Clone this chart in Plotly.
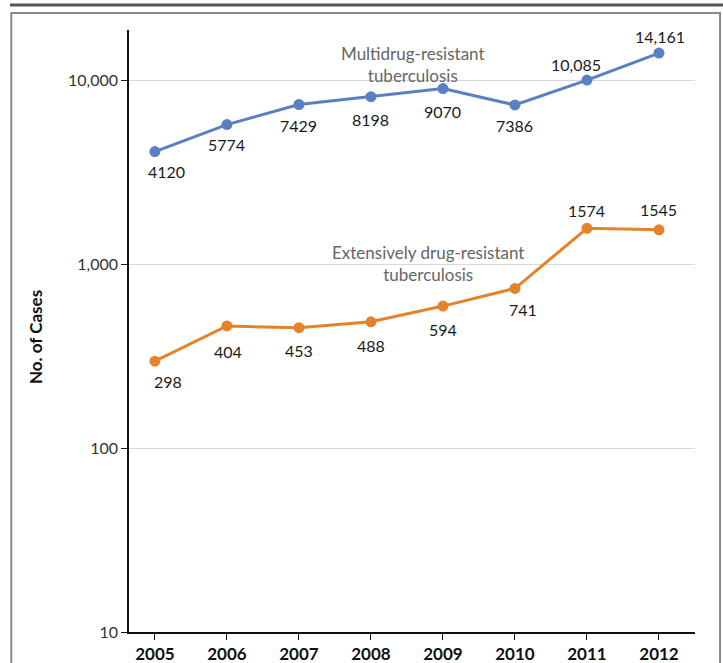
import plotly.graph_objects as go
import math

years = [2005, 2006, 2007, 2008, 2009, 2010, 2011, 2012]
mdr_values = [4120, 5774, 7429, 8198, 9070, 7386, 10085, 14161]
mdr_labels = ["4120", "5774", "7429", "8198", "9070", "7386", "10,085", "14,161"]
xdr_values = [298, 463, 453, 488, 594, 741, 1574, 1545]
xdr_labels = ["298", "404", "453", "488", "594", "741", "1574", "1545"]
y_tickvals = [10, 100, 1000, 10000]
y_ticktext = ["10", "100", "1,000", "10,000"]

BLUE = "#5b80c2"
ORANGE = "#e5832a"
FONT = "Lato"

fig = go.Figure()
fig.add_trace(go.Scatter(x=years, y=mdr_values, mode="lines+markers",
                         line=dict(color=BLUE, width=3),
                         marker=dict(size=11, color=BLUE), showlegend=False))
fig.add_trace(go.Scatter(x=years, y=xdr_values, mode="lines+markers",
                         line=dict(color=ORANGE, width=3),
                         marker=dict(size=11, color=ORANGE), showlegend=False))

# label offsets (pixels) for data labels
mdr_off = [(12, -20), (0, -20), (0, -21), (0, -23), (0, -23), (0, -21), (-11, 16), (1, 17)]
xdr_off = [(13, -20), (1, -26), (0, -23), (0, -24), (0, -23), (8, -21), (0, 18), (0, 20)]

ann = []
for x, y, t, (dx, dy) in zip(years, mdr_values, mdr_labels, mdr_off):
    ann.append(dict(x=x, y=math.log10(y), text=t, showarrow=False, xshift=dx, yshift=dy,
                    font=dict(family=FONT, size=16, color="#1a1a1a")))
for x, y, t, (dx, dy) in zip(years, xdr_values, xdr_labels, xdr_off):
    ann.append(dict(x=x, y=math.log10(y), text=t, showarrow=False, xshift=dx, yshift=dy,
                    font=dict(family=FONT, size=16, color="#1a1a1a")))
ann.append(dict(x=2008.58, y=math.log10(12300), text="Multidrug-resistant<br>tuberculosis",
                showarrow=False, font=dict(family=FONT, size=17, color="#666666")))
ann.append(dict(x=2008.79, y=math.log10(1010), text="Extensively drug-resistant<br>tuberculosis",
                showarrow=False, font=dict(family=FONT, size=17, color="#666666")))
ann.append(dict(xref="paper", yref="paper", x=(35 - 129) / 566, y=(632 - 337) / 602,
                xanchor="center", yanchor="middle",
                text="<b>No. of Cases</b>", textangle=-90, showarrow=False,
                font=dict(family=FONT, size=17, color="#111")))

fig.update_layout(
    width=723, height=663,
    margin=dict(l=129, r=28, t=30, b=31),
    paper_bgcolor="white", plot_bgcolor="white",
    annotations=ann,
    xaxis=dict(range=[2004.64, 2012.5], tickvals=years, ticktext=[str(y) for y in years],
               showgrid=False, showline=True, linecolor="#111", linewidth=1.5,
               ticks="outside", ticklen=6, tickcolor="#111", automargin=False,
               tickfont=dict(family=FONT, size=17, color="#111", weight="bold"), zeroline=False),
    yaxis=dict(type="log", range=[1, math.log10(18900)], tickvals=y_tickvals, ticktext=y_ticktext,
               showgrid=True, gridcolor="#d9d9d9", gridwidth=1, automargin=False,
               showline=True, linecolor="#111", linewidth=1.5,
               ticks="outside", ticklen=6, tickcolor="#111",
               tickfont=dict(family=FONT, size=16, color="#333"), zeroline=False),
    shapes=[
        dict(type="line", xref="paper", yref="paper", x0=-0.2102, x1=1.0495, y0=1.0415, y1=1.0415,
             line=dict(color="#555555", width=3)),
        dict(type="rect", xref="paper", yref="paper", x0=-0.208, x1=1.0442, y0=-0.2, y1=1.0282,
             line=dict(color="#8a8a8a", width=2), layer="below"),
    ],
)

fig.write_html("out.html", config={"displayModeBar": False},
               post_script="document.body.style.margin='0';document.body.style.overflow='hidden';")
